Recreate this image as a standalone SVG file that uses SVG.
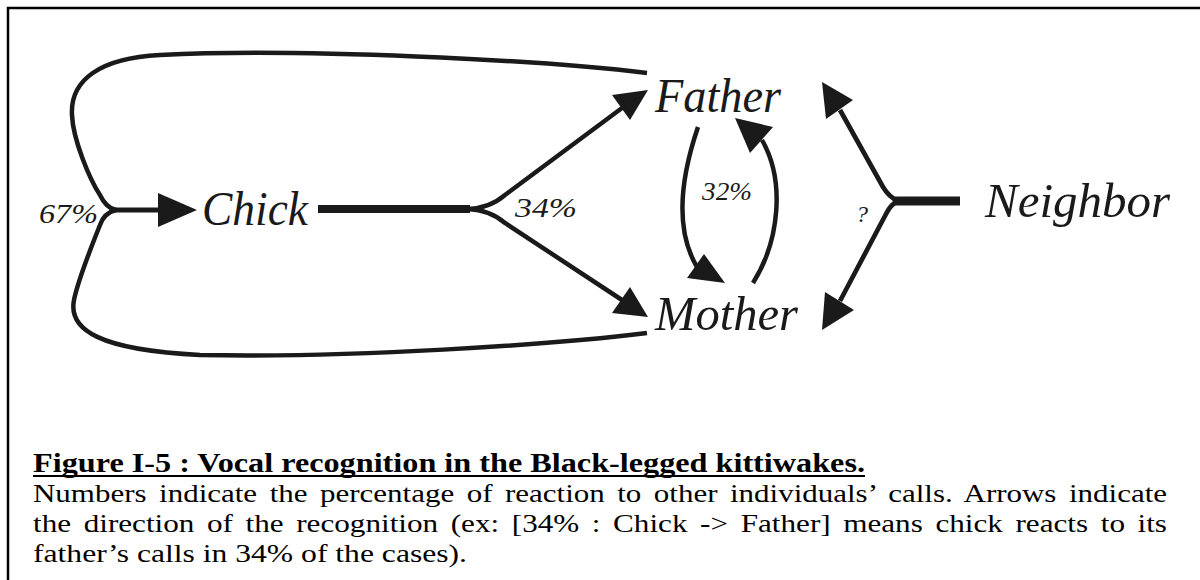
<svg xmlns="http://www.w3.org/2000/svg" width="1200" height="580" viewBox="0 0 1200 580">
<style>
.lbl{font-family:"Liberation Serif",serif;font-style:italic;fill:#1a1a1a}
.node{font-size:48px}
.pct{font-size:28px}
.ln{fill:none;stroke:#1a1a1a;stroke-linecap:butt}
.head{fill:#1a1a1a}
.cap{font-family:"Liberation Serif","Times New Roman",serif;font-size:26px;fill:#000}
.capb{font-weight:bold;font-size:27px}
</style>
<rect width="1200" height="580" fill="#fff"/>
<path d="M8,580 V8 H1200" fill="none" stroke="#000" stroke-width="2.5"/>

<g id="connectors">
  <path class="ln" stroke-width="4.5" d="M647,73 C540,60 300,48 160,55 C100,58 70,80 72,115 C73,140 90,180 100,195 Q106,208 116,210"/>
  <path class="ln" stroke-width="4.5" d="M116,210 Q104,213 100,225 C92,245 78,280 74,300 C68,330 100,350 200,355 C350,358 550,345 647,333"/>
  <line class="ln" stroke-width="5" x1="114" y1="210" x2="162" y2="210"/>
  <polygon class="head" points="158,193 197,210 158,227"/>
  <line class="ln" stroke-width="8" x1="318" y1="209" x2="470" y2="209"/>
  <path class="ln" stroke-width="4.5" d="M468,209 Q490,208 505,195 L622,108"/>
  <polygon class="head" points="648,90 612,95 630,120"/>
  <path class="ln" stroke-width="4.5" d="M468,209 Q490,210 505,223 L622,300"/>
  <polygon class="head" points="648,317 612,313 630,287"/>
  <path class="ln" stroke-width="4.5" d="M698,127 C680,180 675,230 697,267"/>
  <polygon class="head" points="725,283 687,278 704,254"/>
  <path class="ln" stroke-width="4.5" d="M753,283 C780,240 785,180 762,140"/>
  <polygon class="head" points="735,118 750,153 773,127"/>
  <line class="ln" stroke-width="9" x1="895" y1="201" x2="960" y2="201"/>
  <path class="ln" stroke-width="4.7" d="M898,201 Q889,197 883,187 L840,110"/>
  <polygon class="head" points="822,82 853,100 826,119"/>
  <path class="ln" stroke-width="4.7" d="M898,201 Q891,204 886,214 L840,301"/>
  <polygon class="head" points="822,330 854,310 825,292"/>
</g>

<g id="edge-labels">
  <text class="lbl pct" x="39" y="223" textLength="59" lengthAdjust="spacingAndGlyphs">67%</text>
  <text class="lbl pct" x="515" y="217" textLength="62" lengthAdjust="spacingAndGlyphs">34%</text>
  <text class="lbl" style="font-size:25px" x="702" y="200" textLength="50" lengthAdjust="spacingAndGlyphs">32%</text>
  <text class="lbl" style="font-size:24px" x="856" y="222">?</text>
</g>

<g id="node-chick"><text class="lbl node" x="202" y="225" textLength="106" lengthAdjust="spacingAndGlyphs">Chick</text></g>
<g id="node-father"><text class="lbl node" x="655" y="112" textLength="126" lengthAdjust="spacingAndGlyphs">Father</text></g>
<g id="node-mother"><text class="lbl node" x="655" y="330" textLength="143" lengthAdjust="spacingAndGlyphs">Mother</text></g>
<g id="node-neighbor"><text class="lbl node" x="985" y="217" textLength="185" lengthAdjust="spacingAndGlyphs">Neighbor</text></g>

<g id="caption">
  <text class="cap capb" x="33" y="472" textLength="832" lengthAdjust="spacingAndGlyphs">Figure I-5 : Vocal recognition in the Black-legged kittiwakes.</text>
  <line x1="33" y1="476" x2="865" y2="476" stroke="#000" stroke-width="2"/>
  <text class="cap" x="33" y="502" textLength="1134" lengthAdjust="spacingAndGlyphs" word-spacing="4">Numbers indicate the percentage of reaction to other individuals’ calls. Arrows indicate</text>
  <text class="cap" x="33" y="532" textLength="1134" lengthAdjust="spacingAndGlyphs" word-spacing="4">the direction of the recognition (ex: [34% : Chick -&gt; Father] means chick reacts to its</text>
  <text class="cap" x="33" y="562" textLength="434" lengthAdjust="spacingAndGlyphs">father’s calls in 34% of the cases).</text>
</g>
</svg>
